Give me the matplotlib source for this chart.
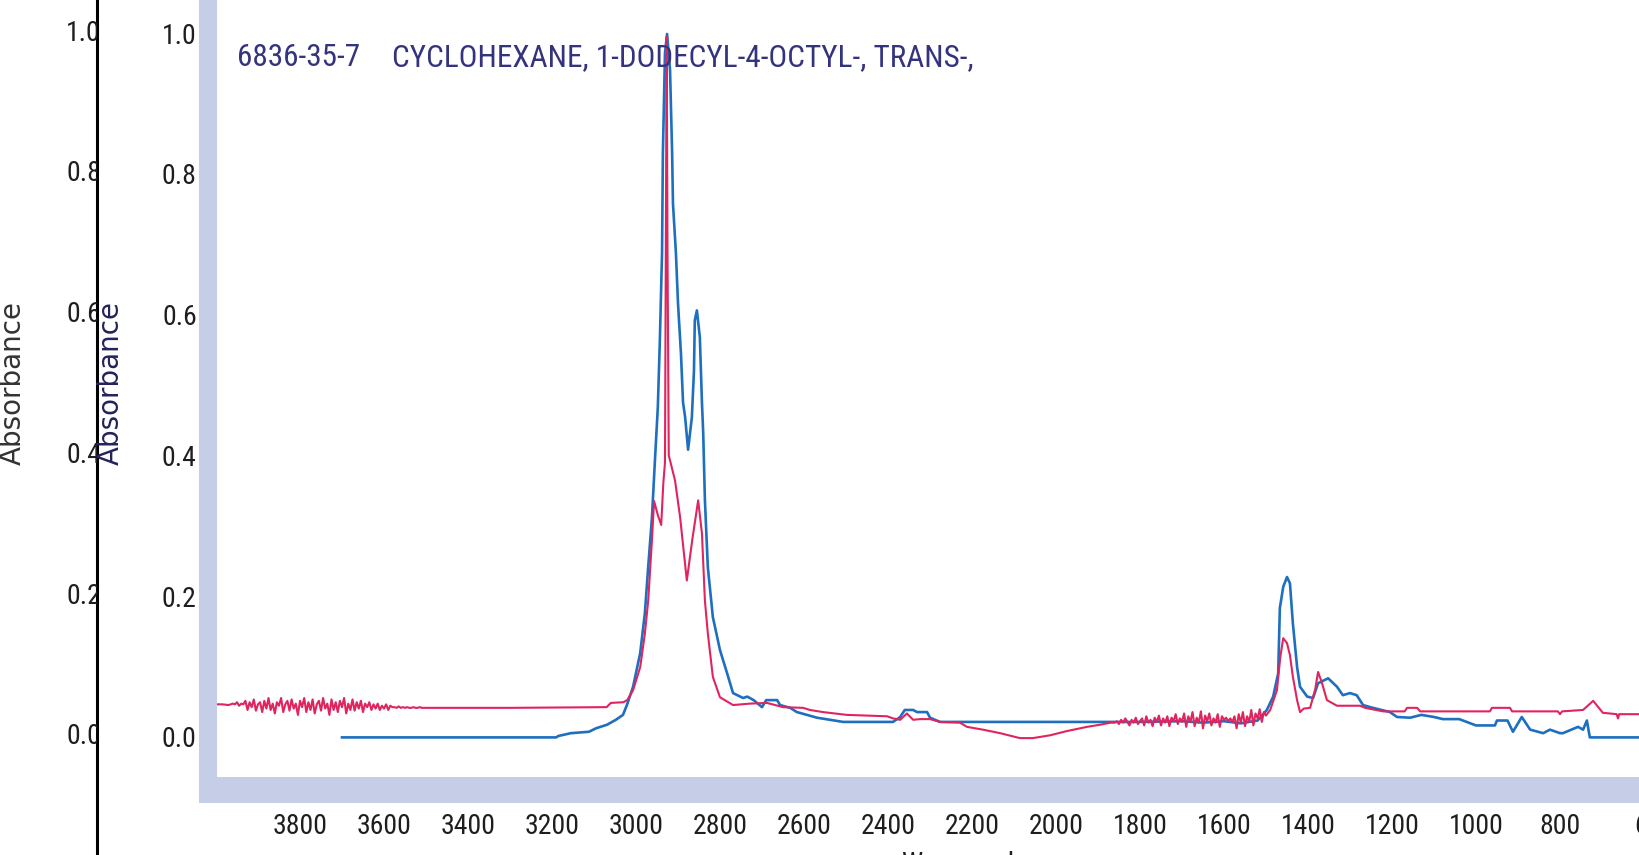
import matplotlib
matplotlib.use("Agg")
import matplotlib.pyplot as plt
from matplotlib import font_manager as fm
from matplotlib.ticker import FixedLocator, MultipleLocator, FuncFormatter
from matplotlib.patches import Rectangle

# ---------------- data ----------------
title_id = "6836-35-7"
title_name = "CYCLOHEXANE, 1-DODECYL-4-OCTYL-, TRANS-,"
x_label = "Wavenumber"
y_label = "Absorbance"

y_ticks = [0.0, 0.2, 0.4, 0.6, 0.8, 1.0]
x_major = list(range(4000, 599, -200))
x_labelled = list(range(3800, 799, -200))

# red trace, in pieces
red_start_wn = [4000, 3985, 3970]
red_start_abs = [0.046, 0.046, 0.045]

red_noise1_wn = list(range(3960, 3499, -5))
red_noise1_abs = [0.047, 0.046, 0.049, 0.044, 0.047, 0.046,
                  0.051, 0.038, 0.049, 0.042, 0.053, 0.037, 0.046, 0.049, 0.035, 0.051,
                  0.040, 0.055, 0.038, 0.047, 0.033, 0.049, 0.044, 0.055, 0.035, 0.046,
                  0.051, 0.037, 0.053, 0.040, 0.047, 0.031, 0.051, 0.042, 0.055, 0.035,
                  0.049, 0.038, 0.053, 0.033, 0.046, 0.051, 0.037, 0.055, 0.040, 0.047,
                  0.031, 0.053, 0.038, 0.049, 0.035, 0.051, 0.042, 0.055, 0.033, 0.047,
                  0.038, 0.053, 0.037, 0.049, 0.040, 0.051, 0.035, 0.047, 0.042, 0.049,
                  0.038, 0.046, 0.040, 0.047, 0.038, 0.044, 0.040, 0.046, 0.038, 0.044,
                  0.042, 0.042, 0.041, 0.043, 0.041, 0.042, 0.041, 0.042, 0.041, 0.041,
                  0.042, 0.041, 0.041, 0.042, 0.041, 0.041, 0.041]

red_mid_wn = [3300, 3070, 3060, 3030, 3021, 3007, 2990, 2979, 2971, 2962, 2957, 2948,
              2940, 2935, 2931, 2929, 2927, 2925, 2922, 2907, 2895, 2879, 2866, 2852,
              2843, 2836, 2829, 2817, 2800, 2769, 2729, 2688, 2650, 2602, 2586, 2555,
              2498, 2402, 2388, 2371, 2355, 2340, 2324, 2300, 2276, 2229, 2212, 2174,
              2133, 2086, 2055, 2014, 1974, 1926, 1895, 1870]
red_mid_abs = [0.041, 0.042, 0.048, 0.049, 0.052, 0.066, 0.099, 0.146, 0.193, 0.280, 0.335, 0.315,
               0.301, 0.360, 0.390, 0.690, 0.995, 0.690, 0.400, 0.364, 0.312, 0.222, 0.280, 0.336,
               0.289, 0.194, 0.147, 0.085, 0.056, 0.045, 0.047, 0.048, 0.042, 0.041, 0.038, 0.035,
               0.031, 0.029, 0.026, 0.024, 0.033, 0.024, 0.025, 0.025, 0.021, 0.020, 0.014, 0.010,
               0.005, -0.002, -0.002, 0.002, 0.008, 0.014, 0.017, 0.020]

red_noise2_wn = list(range(1860, 1499, -5))
red_noise2_abs = [0.020, 0.022, 0.018, 0.024, 0.020, 0.026, 0.021, 0.016, 0.024, 0.020, 0.027, 0.018, 0.022,
                  0.026, 0.016, 0.029, 0.020, 0.024, 0.015, 0.027, 0.021, 0.030, 0.016,
                  0.026, 0.020, 0.029, 0.015, 0.027, 0.022, 0.032, 0.018, 0.026, 0.021,
                  0.033, 0.014, 0.029, 0.021, 0.035, 0.015, 0.027, 0.020, 0.036, 0.012,
                  0.030, 0.022, 0.033, 0.016, 0.026, 0.020, 0.032, 0.014, 0.029, 0.024,
                  0.027, 0.022, 0.026, 0.021, 0.029, 0.012, 0.032, 0.020, 0.035, 0.015,
                  0.029, 0.021, 0.038, 0.016, 0.033, 0.026, 0.039, 0.021, 0.035, 0.030]

red_end_wn = [1490, 1474, 1466, 1459, 1450, 1443, 1436, 1426, 1419, 1410, 1395,
              1383, 1376, 1367, 1355, 1331, 1276, 1264, 1221, 1170, 1164, 1140, 1133,
              1062, 967, 962, 919, 914, 805, 800, 795, 745, 721, 698, 665, 662, 659, 612]
red_end_abs = [0.038, 0.066, 0.113, 0.140, 0.133, 0.116, 0.085, 0.052, 0.035, 0.040, 0.041,
               0.067, 0.092, 0.077, 0.052, 0.044, 0.044, 0.041, 0.036, 0.036, 0.041, 0.041, 0.036,
               0.036, 0.036, 0.041, 0.041, 0.036, 0.036, 0.032, 0.036, 0.038, 0.051, 0.034, 0.032,
               0.026, 0.032, 0.032]

blue_wn = [3700, 3324, 3190, 3185, 3155, 3112, 3095, 3069, 3048, 3031, 3021, 3007, 2990,
           2979, 2971, 2962, 2955, 2948, 2943, 2938, 2936, 2931, 2926, 2919, 2914, 2912,
           2905, 2900, 2893, 2888, 2883, 2876, 2867, 2862, 2860, 2855, 2848, 2843, 2840,
           2836, 2829, 2817, 2800, 2783, 2769, 2745, 2735, 2720, 2700, 2690, 2664, 2657,
           2633, 2617, 2593, 2569, 2507, 2388, 2371, 2360, 2340, 2331, 2307, 2300, 2276,
           1800, 1700, 1650, 1600, 1560, 1520, 1498, 1483, 1471, 1467, 1459, 1450, 1443,
           1436, 1426, 1419, 1402, 1388, 1376, 1352, 1331, 1317, 1300, 1284, 1269, 1252,
           1205, 1188, 1157, 1130, 1100, 1079, 1040, 1000, 955, 950, 925, 912, 891, 871,
           840, 824, 800, 793, 757, 745, 736, 729, 612]
blue_abs = [-0.001, -0.001, -0.001, 0.001, 0.005, 0.007, 0.012, 0.017, 0.024, 0.031, 0.046, 0.071, 0.119,
            0.175, 0.241, 0.312, 0.392, 0.469, 0.568, 0.688, 0.830, 0.972, 0.999, 0.948, 0.830, 0.758,
            0.688, 0.616, 0.545, 0.475, 0.454, 0.408, 0.454, 0.520, 0.592, 0.606, 0.568, 0.475, 0.432,
            0.337, 0.241, 0.170, 0.123, 0.090, 0.062, 0.055, 0.057, 0.052, 0.042, 0.052, 0.052, 0.045,
            0.041, 0.035, 0.031, 0.027, 0.021, 0.021, 0.028, 0.038, 0.038, 0.035, 0.035, 0.027, 0.021,
            0.021, 0.022, 0.020, 0.022, 0.019, 0.023, 0.038, 0.057, 0.090, 0.183, 0.213, 0.227, 0.218,
            0.161, 0.099, 0.071, 0.057, 0.055, 0.076, 0.083, 0.071, 0.059, 0.062, 0.059, 0.045, 0.042,
            0.035, 0.028, 0.027, 0.031, 0.028, 0.025, 0.025, 0.016, 0.016, 0.023, 0.023, 0.007, 0.028, 0.010,
            0.005, 0.010, 0.005, 0.005, 0.014, 0.010, 0.023, -0.001, -0.001]

red_wn = red_start_wn + red_noise1_wn + red_mid_wn + red_noise2_wn + red_end_wn
red_abs = red_start_abs + red_noise1_abs + red_mid_abs + red_noise2_abs + red_end_abs

# ---------------- styling ----------------
W, H = 1639, 855
RED = "#e0245e"
BLUE = "#1e6fc0"
STRIP = "#c6cde6"
NAVY = "#34347e"
INK = "#1e1e1e"

names = {f.name for f in fm.fontManager.ttflist}
narrow = "Liberation Sans"
for cand in ["Liberation Sans Narrow", "Arial Narrow", "Roboto Condensed",
             "Open Sans Condensed", "DejaVu Sans Condensed"]:
    if cand in names:
        narrow = cand
        break

fig = plt.figure(figsize=(W / 100, H / 100), dpi=100)
fig.patch.set_facecolor("white")

def fx(px):
    return px / W

def fy(py):
    return 1 - py / H

# light blue frame strips of the plot area
fig.patches.append(Rectangle((fx(199), fy(803)), fx(217) - fx(199), fy(0) - fy(803),
                             transform=fig.transFigure, facecolor=STRIP, edgecolor="none", zorder=0))
fig.patches.append(Rectangle((fx(199), fy(803)), 1 - fx(199), fy(777) - fy(803),
                             transform=fig.transFigure, facecolor=STRIP, edgecolor="none", zorder=0))

# main axes
ax = fig.add_axes([fx(210), fy(800), 1 - fx(210), fy(0) - fy(800)])
ax.set_facecolor("none")
ax.set_xlim(4014.3, 611.9)
ax.set_ylim(-0.090, 1.0473)
for s in ax.spines.values():
    s.set_visible(False)

ax.plot(blue_wn, blue_abs, color=BLUE, lw=1.9, zorder=3)
ax.plot(red_wn, red_abs, color=RED, lw=1.5, zorder=4)

ax.xaxis.set_major_locator(FixedLocator(x_major))
ax.xaxis.set_minor_locator(MultipleLocator(40))
ax.xaxis.set_major_formatter(FuncFormatter(lambda v, p: f"{int(round(v))}" if int(round(v)) in x_labelled else ""))
ax.yaxis.set_major_locator(FixedLocator(y_ticks))
ax.yaxis.set_major_formatter(FuncFormatter(lambda v, p: f"{v:.1f}"))
ax.tick_params(axis="x", which="major", direction="in", length=10.5, width=1.5, color=RED,
               pad=9, labelsize=20, labelcolor=INK, top=False)
ax.tick_params(axis="x", which="minor", direction="in", length=5, width=1.5, color=RED, top=False)
ax.tick_params(axis="y", which="major", direction="out", length=8, width=2.2, color=RED,
               pad=1.5, labelsize=20, labelcolor=INK, right=False)
for lab in ax.get_xticklabels() + ax.get_yticklabels():
    lab.set_fontfamily(narrow)

# partly visible "600" label at the right edge
ax.annotate("600", xy=(600, 0), xycoords=ax.get_xaxis_transform(), xytext=(8, -9),
            textcoords="offset points", ha="center", va="top", fontsize=20, color=INK,
            family=narrow, annotation_clip=False)

# title
fig.text(fx(237), fy(58), title_id, ha="left", va="center", fontsize=22.5, color=NAVY, family=narrow)
fig.text(fx(392), fy(58), title_name, ha="left", va="center", fontsize=22.5, color=NAVY, family=narrow)

# second (overlapping) axis of the scanned page on the far left
ax0 = fig.add_axes([0, 0, fx(97), 1])
ax0.set_facecolor("none")
ax0.set_xlim(0, 97)
ax0.set_ylim(-0.1682, 1.0473)
for k, s in ax0.spines.items():
    s.set_visible(k == "right")
ax0.spines["right"].set_linewidth(2.2)
ax0.spines["right"].set_color("black")
ax0.set_xticks([])
ax0.set_yticks([])
for v in y_ticks:
    t = ax0.text(101, v, f"{v:.1f}", ha="right", va="center", fontsize=20, color=INK,
                 family=narrow, clip_on=True)
    t.set_clip_box(ax0.bbox)

# axis titles
fig.text(fx(13), fy(383), y_label, rotation=90, ha="center", va="center", fontsize=20, color="#333333",
         family="DejaVu Sans")
fig.text(fx(111), fy(383), y_label, rotation=90, ha="center", va="center", fontsize=20, color="#23235a",
         family="DejaVu Sans")
fig.text(fx(972), fy(851), x_label, ha="center", va="top", fontsize=20, color=INK, family=narrow)

fig.savefig("out.png", dpi=100, facecolor="white")
